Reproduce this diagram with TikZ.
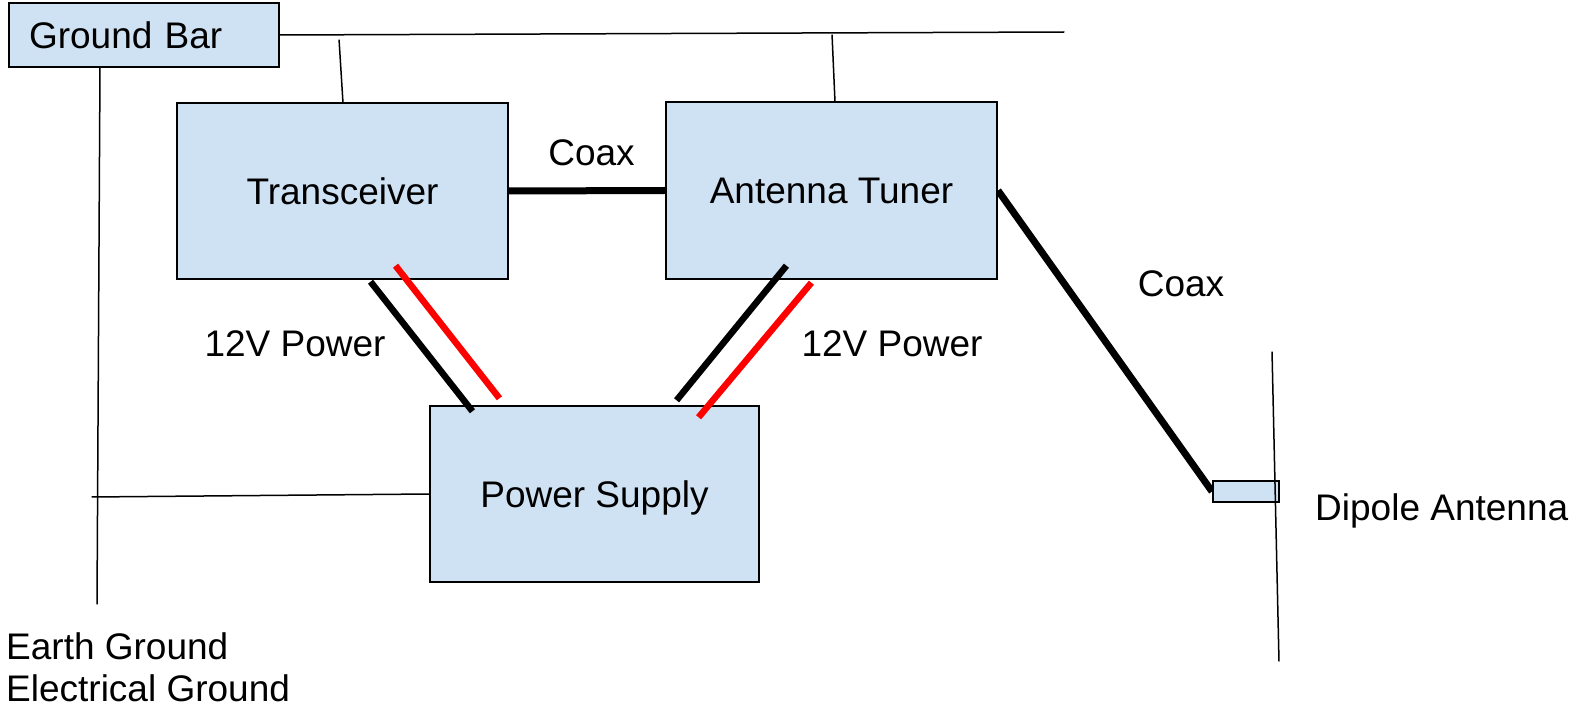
\documentclass[tikz,border=0pt]{standalone}
\usepackage{fontspec}
\setmainfont{Liberation Sans}
\usepackage{tikz}
\pgfdeclarelayer{edgelayer}
\pgfdeclarelayer{nodelayer}
\pgfsetlayers{edgelayer,nodelayer,main}
\definecolor{boxblue}{HTML}{CFE2F3}
\definecolor{wirered}{HTML}{FF0000}
\tikzstyle{none}=[inner sep=0pt]
\tikzstyle{box}=[rectangle, fill=boxblue, draw=black, line width=2pt, text height=26.5pt, text depth=0pt]
\tikzstyle{wire}=[draw=black, line width=1.5pt]
\tikzstyle{coax}=[draw=black, line width=7pt]
\tikzstyle{minuswire}=[draw=black, line width=6.5pt]
\tikzstyle{pluswire}=[draw=wirered, line width=6.5pt]

\begin{document}
\begin{tikzpicture}[x=1pt, y=-1pt, font=\fontsize{37}{44}\selectfont]
	\useasboundingbox (0, 0) rectangle (1579, 708);
	\begin{pgfonlayer}{nodelayer}
		\node [style=box, minimum height=64pt, text width=230pt, inner xsep=20pt, align=left] (0) at (144, 35) {Ground Bar};
		\node [style=box, minimum width=331pt, minimum height=176pt] (1) at (342.5, 191) {Transceiver};
		\node [style=box, minimum width=331pt, minimum height=177pt] (2) at (831.5, 190.5) {Antenna Tuner};
		\node [style=box, minimum width=329pt, minimum height=176pt] (3) at (594.5, 494) {Power Supply};
		\node [style=box, text height=0pt, inner sep=0pt, minimum width=66pt, minimum height=21pt] (4) at (1246, 491.5) {};
		\node [style=none] (5) at (1065, 32) {};
		\node [style=none] (6) at (100, 67) {};
		\node [style=none] (7) at (97, 605) {};
		\node [style=none] (8) at (339, 39) {};
		\node [style=none] (9) at (343, 103) {};
		\node [style=none] (10) at (832, 34) {};
		\node [style=none] (11) at (835, 102) {};
		\node [style=none] (12) at (91, 497) {};
		\node [style=none] (13) at (1272, 351) {};
		\node [style=none] (14) at (1279, 662) {};
		\node [style=none] (15) at (370, 281) {};
		\node [style=none] (16) at (473, 412) {};
		\node [style=none] (17) at (395, 265) {};
		\node [style=none] (18) at (500, 399) {};
		\node [style=none] (19) at (787, 265) {};
		\node [style=none] (20) at (676, 401) {};
		\node [style=none] (21) at (812, 282) {};
		\node [style=none] (22) at (698, 418) {};
		\node [style=none, anchor=base] (23) at (591.5, 166) {Coax};
		\node [style=none, anchor=base] (24) at (1181, 297) {Coax};
		\node [style=none, anchor=base] (25) at (295, 356) {12V Power};
		\node [style=none, anchor=base] (26) at (892, 356) {12V Power};
		\node [style=none, anchor=base west] (27) at (1315, 520) {Dipole Antenna};
		\node [style=none, anchor=base west] (28) at (6, 659) {Earth Ground};
		\node [style=none, anchor=base west] (29) at (6, 701) {Electrical Ground};
	\end{pgfonlayer}
	\begin{pgfonlayer}{edgelayer}
		\draw [style=wire] (0.east) to (5);
		\draw [style=wire] (6) to (7);
		\draw [style=wire] (8) to (9);
		\draw [style=wire] (10) to (11);
		\draw [style=wire] (12) to (3.west);
		\draw [style=coax] (1.east) to (2.west);
		\draw [style=coax] (2.east) to (4.west);
	\end{pgfonlayer}
	\draw [style=minuswire] (15) to (16);
	\draw [style=pluswire] (17) to (18);
	\draw [style=minuswire] (19) to (20);
	\draw [style=pluswire] (21) to (22);
	\draw [style=wire] (13) to (14);
\end{tikzpicture}
\end{document}
